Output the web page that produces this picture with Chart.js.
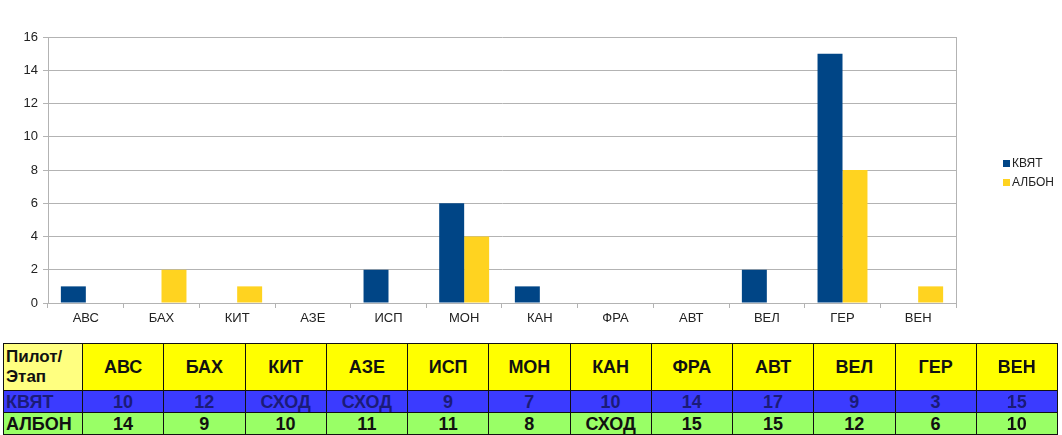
<!DOCTYPE html>
<html lang="ru">

<head>
    <title>Квят / Албон</title>
    <meta charset="utf-8">
    <script src="https://cdn.jsdelivr.net/npm/chart.js"></script>
    <style>
        body { margin: 0; background: #fff; font-family: "Liberation Sans", Arial, sans-serif; }
        #wrap { position: relative; width: 1062px; height: 435px; overflow: hidden; }
        #chartBox { position: absolute; left: 0; top: 0; width: 1062px; height: 340px; }
        #legend { position: absolute; left: 1003px; top: 155px; font-size: 12px; color: #222; }
        #legend div { height: 19px; line-height: 16px; white-space: nowrap; }
        #legend span.sw { display: inline-block; width: 7px; height: 7px; margin-right: 2px; vertical-align: 0; }
        #results { position: absolute; left: 3px; top: 343px; width: 1055px; border-collapse: collapse; table-layout: fixed; }
        #results td { border: 1px solid #111; padding: 0; text-align: center; font-weight: bold; font-size: 18px; overflow: hidden; }
        #results tr.head td { background: #ffff00; height: 46px; font-size: 18px; color: #111; }
        #results tr.head td.first { background: #ffff80; text-align: left; font-size: 17px; line-height: 20px; padding-left: 2px; }
        #results tr.kv td { background: #3b3bff; height: 21px; line-height: 20px; color: #1b1b78; }
        #results tr.al td { background: #99ff66; height: 21px; line-height: 20px; color: #111; }
        #results td.name { text-align: left; padding-left: 2px; }
    </style>
</head>

<body>
    <div id="wrap">
        <div id="chartBox"><canvas id="pointsChart"></canvas></div>
        <div id="legend"></div>
        <table id="results"></table>
    </div>

    <script>
        // этапы
        const stages = ['АВС', 'БАХ', 'КИТ', 'АЗЕ', 'ИСП', 'МОН', 'КАН', 'ФРА', 'АВТ', 'ВЕЛ', 'ГЕР', 'ВЕН'];
        // очки за этап
        const kvyatPoints = [1, 0, 0, 0, 2, 6, 1, 0, 0, 2, 15, 0];
        const albonPoints = [0, 2, 1, 0, 0, 4, 0, 0, 0, 0, 8, 1];
        // места в гонке
        const kvyatPlaces = ['10', '12', 'СХОД', 'СХОД', '9', '7', '10', '14', '17', '9', '3', '15'];
        const albonPlaces = ['14', '9', '10', '11', '11', '8', 'СХОД', '15', '15', '12', '6', '10'];
        const yTicks = [0, 2, 4, 6, 8, 10, 12, 14, 16];

        const drivers = [
            { name: 'КВЯТ', color: '#004586', points: kvyatPoints, places: kvyatPlaces, cls: 'kv' },
            { name: 'АЛБОН', color: '#ffd320', points: albonPoints, places: albonPlaces, cls: 'al' }
        ];

        const gridColor = '#b3b3b3';
        const tickFont = { family: '"Liberation Sans", Arial, sans-serif', size: 13 };

        const ctx = document.getElementById('pointsChart').getContext('2d');
        const pointsChart = new Chart(ctx, {
            type: 'bar',
            data: {
                labels: stages,
                datasets: drivers.map(d => ({
                    label: d.name,
                    data: d.points,
                    backgroundColor: d.color,
                    borderWidth: 0,
                    categoryPercentage: 0.66,
                    barPercentage: 1.0
                }))
            },
            options: {
                responsive: true,
                maintainAspectRatio: false,
                animation: false,
                layout: { padding: { left: 0, right: 106, top: 37, bottom: 0 } },
                plugins: {
                    legend: { display: false },
                    tooltip: { enabled: false }
                },
                scales: {
                    x: {
                        offset: true,
                        grid: { offset: true, drawOnChartArea: false, color: gridColor, tickLength: 5 },
                        border: { color: gridColor },
                        ticks: { color: '#222', font: tickFont, padding: 3, maxRotation: 0 },
                        afterFit: (scale) => { scale.height = 37; }
                    },
                    y: {
                        min: 0,
                        max: 16,
                        afterBuildTicks: (scale) => { scale.ticks = yTicks.map(v => ({ value: v })); },
                        grid: { color: gridColor, tickLength: 5 },
                        border: { color: gridColor },
                        ticks: { color: '#222', font: tickFont, padding: 5 },
                        afterFit: (scale) => { scale.width = 48; }
                    },
                    yRight: {
                        position: 'right',
                        min: 0,
                        max: 16,
                        grid: { display: false },
                        border: { color: gridColor },
                        ticks: { display: false },
                        afterFit: (scale) => { scale.width = 0; }
                    }
                }
            }
        });

        // легенда
        const legend = document.getElementById('legend');
        pointsChart.data.datasets.forEach(ds => {
            const row = document.createElement('div');
            row.innerHTML = '<span class="sw" style="background:' + ds.backgroundColor + '"></span>' + ds.label;
            legend.appendChild(row);
        });

        // таблица результатов
        const table = document.getElementById('results');
        let html = '<colgroup><col style="width:79px">' + stages.map(() => '<col>').join('') + '</colgroup>';
        html += '<tr class="head"><td class="first">Пилот/<br>Этап</td>' + stages.map(s => '<td>' + s + '</td>').join('') + '</tr>';
        drivers.forEach(d => {
            html += '<tr class="' + d.cls + '"><td class="name">' + d.name + '</td>' + d.places.map(p => '<td>' + p + '</td>').join('') + '</tr>';
        });
        table.innerHTML = html;
    </script>
</body>

</html>
